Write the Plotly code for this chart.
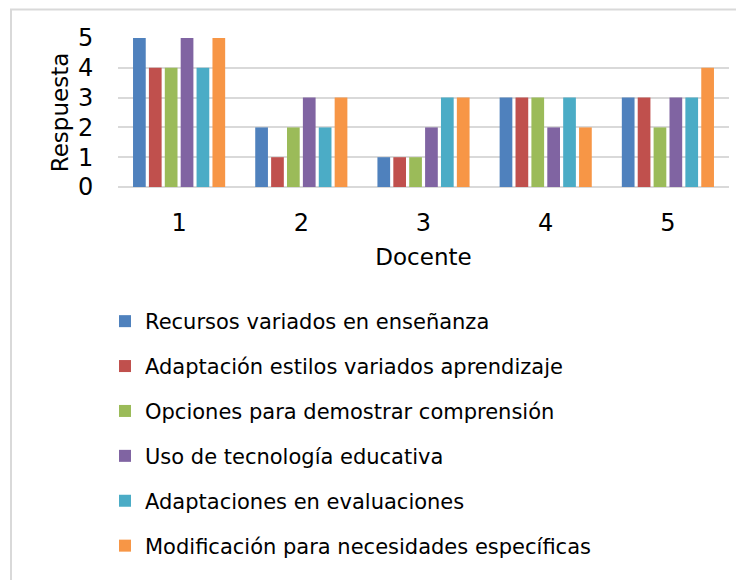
import plotly.graph_objects as go

docentes = ["1", "2", "3", "4", "5"]
series_names = [
    "Recursos variados en enseñanza",
    "Adaptación estilos variados aprendizaje",
    "Opciones para demostrar comprensión",
    "Uso de tecnología educativa",
    "Adaptaciones en evaluaciones",
    "Modificación para necesidades específicas",
]
recursos = [5, 2, 1, 3, 3]
adaptacion_estilos = [4, 1, 1, 3, 3]
opciones = [4, 2, 1, 3, 2]
tecnologia = [5, 3, 2, 2, 3]
evaluaciones = [4, 2, 3, 3, 3]
modificacion = [5, 3, 3, 2, 4]
colors = ["#4F81BD", "#C0504D", "#9BBB59", "#8064A2", "#4BACC6", "#F79646"]

values = [recursos, adaptacion_estilos, opciones, tecnologia, evaluaciones, modificacion]

# page has an 8px body margin; work in figure pixels = page pixels - 8
OFF = 8
W, H = 744 - OFF, 580 - OFF
L, T = 118 - OFF, 38 - OFF
R = W - (729 - OFF)
B = H - (187 - OFF)
pw = W - L - R
ph = H - T - B

fig = go.Figure()
for name, vals, c in zip(series_names, values, colors):
    fig.add_trace(go.Bar(x=docentes, y=vals, name=name, marker_color=c,
                         marker_line_width=0, legendgroup=name))

font = "DejaVu Sans, Verdana, sans-serif"

def px_x(p):  # page pixel -> paper
    return (p - OFF - L) / pw

def px_y(p):
    return (H - B - (p - OFF)) / ph

fig.update_layout(
    width=W, height=H,
    margin=dict(l=L, r=R, t=T, b=B),
    paper_bgcolor="white", plot_bgcolor="white",
    font=dict(family=font, color="#000000"),
    barmode="group", bargap=0.22, bargroupgap=0.2,
    showlegend=True,
    legend=dict(
        x=px_x(105), y=px_y(301), xanchor="left", yanchor="top",
        traceorder="grouped", tracegroupgap=14.6,
        font=dict(size=21, family=font, color="#000000"),
        bgcolor="rgba(0,0,0,0)",
    ),
    xaxis=dict(
        title=dict(text="Docente", font=dict(size=23), standoff=13),
        tickfont=dict(size=24),
        ticks="outside", ticklen=14, tickcolor="rgba(0,0,0,0)",
        showline=False, showgrid=False, zeroline=False,
    ),
    yaxis=dict(
        title=dict(text="Respuesta", font=dict(size=23), standoff=2),
        range=[0, 5], dtick=1, tickfont=dict(size=24),
        ticks="outside", ticklen=19, tickcolor="rgba(0,0,0,0)",
        showgrid=True, gridcolor="#D9D9D9", gridwidth=1.8,
        zeroline=True, zerolinecolor="#D9D9D9", zerolinewidth=1.8,
        showline=False,
    ),
    shapes=[
        dict(type="line", xref="paper", yref="paper",
             x0=px_x(11), x1=px_x(11), y0=px_y(9), y1=px_y(600),
             line=dict(color="#D9D9D9", width=2), layer="above"),
        dict(type="line", xref="paper", yref="paper",
             x0=px_x(10), x1=px_x(760), y0=px_y(9.5), y1=px_y(9.5),
             line=dict(color="#D9D9D9", width=2), layer="above"),
    ],
)

fig.write_html("out.html")
